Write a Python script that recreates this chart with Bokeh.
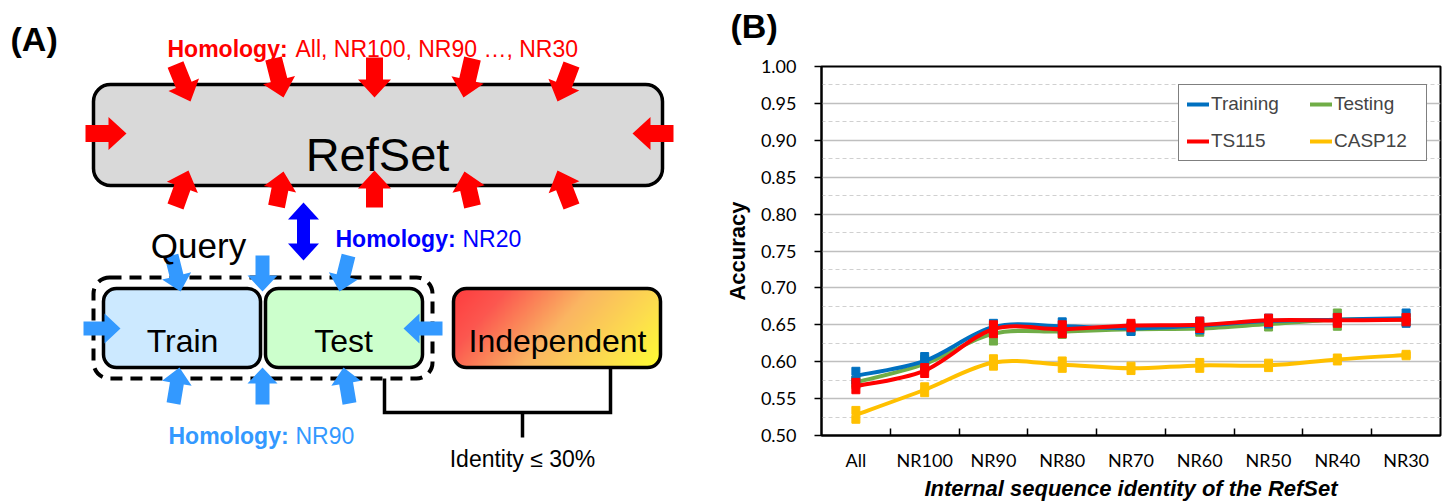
import numpy as np
from bokeh.plotting import figure
from bokeh.layouts import row
from bokeh.models import Range1d, FixedTicker, Legend, LegendItem, Title
from bokeh.core.properties import value
from bokeh.embed import file_html
from bokeh.resources import INLINE

# ---------------- Panel B data ----------------
categories = ["All", "NR100", "NR90", "NR80", "NR70", "NR60", "NR50", "NR40", "NR30"]
training = [0.581, 0.601, 0.647, 0.648, 0.645, 0.649, 0.655, 0.657, 0.659]
training_err = [0.006, 0.006, 0.005, 0.006, 0.004, 0.006, 0.004, 0.003, 0.007]
testing = [0.572, 0.597, 0.638, 0.641, 0.644, 0.645, 0.651, 0.657, 0.657]
testing_err = [0.003, 0.006, 0.010, 0.004, 0.003, 0.005, 0.004, 0.009, 0.003]
ts115 = [0.567, 0.588, 0.644, 0.644, 0.649, 0.650, 0.656, 0.656, 0.657]
ts115_err = [0.005, 0.004, 0.006, 0.006, 0.003, 0.005, 0.003, 0.004, 0.003]
casp12 = [0.528, 0.562, 0.599, 0.596, 0.591, 0.595, 0.595, 0.603, 0.609]
casp12_err = [0.006, 0.004, 0.005, 0.005, 0.003, 0.004, 0.003, 0.002, 0.001]
series_names = ["Training", "Testing", "TS115", "CASP12"]
series_colors = ["#0070C0", "#70AD47", "#FF0000", "#FFC000"]
y_ticks = [0.50, 0.55, 0.60, 0.65, 0.70, 0.75, 0.80, 0.85, 0.90, 0.95, 1.00]
y_solid_grid = [0.55, 0.60, 0.65, 0.70, 0.75, 0.80, 0.85, 0.90, 0.95]
y_dashed_grid = [0.525, 0.575, 0.625, 0.675, 0.725, 0.775, 0.825, 0.875, 0.925, 0.975]
x_title = "Internal sequence identity of the RefSet"
y_title = "Accuracy"

# ---------------- Panel A content ----------------
H = 503
FONT = "Liberation Sans"
refset_box = (93, 662, 84, 185)        # left, right, top, bottom (pixel, y down)
dashed_box = (93, 432, 277, 378)
train_box = (103, 260, 288, 367)
test_box = (265, 422, 288, 367)
indep_box = (453, 660, 288, 367)
red_arrows = [((175, 64), (190, 101)), ((273, 58), (283, 97)), ((374, 57), (374, 97)),
              ((472, 58), (463, 97)), ((571, 64), (557, 101)),
              ((175, 206), (188, 170)), ((276, 206), (283, 171)), ((374, 207), (374, 170)),
              ((472, 206), (464, 171)), ((571, 206), (557, 170)),
              ((85, 133), (126, 133)), ((673, 133), (632, 133))]
blue_arrows = [((171, 255), (180, 291)), ((262, 255), (262, 291)), ((348, 255), (339, 291)),
               ((173, 403), (179, 367)), ((262, 404), (262, 367)), ((349, 403), (343, 367)),
               ((83, 328), (120, 328)), ((442, 328), (403, 328))]
double_arrow = (303, 202, 260)
bracket_x = [384, 384, 610, 610]
bracket_y = [378, 412, 412, 367]
stem_x = [522, 522]
stem_y = [412, 437]
# text: x, baseline y, string, size, color, style, align
texts_A = [
    (10, 38, "(A)", 34, "black", "bold", "left"),
    (377, 154, "RefSet", 47, "black", "normal", "center"),
    (198, 245, "Query", 35, "black", "normal", "center"),
    (182, 340, "Train", 32, "black", "normal", "center"),
    (343, 340, "Test", 32, "black", "normal", "center"),
    (557, 340, "Independent", 32, "black", "normal", "center"),
    (522, 458, "Identity \u2264 30%", 23, "black", "normal", "center"),
    (167, 48, "Homology:", 23, "#FF0000", "bold", "left"),
    (295, 48, "All, NR100, NR90 \u2026, NR30", 23, "#FF0000", "normal", "left"),
    (335, 238, "Homology:", 23, "#0000FF", "bold", "left"),
    (462, 238, "NR20", 23, "#0000FF", "normal", "left"),
    (168, 435, "Homology:", 23, "#3399FF", "bold", "left"),
    (295, 435, "NR90", 23, "#3399FF", "normal", "left"),
]
grad_stops_t = [0.0, 0.2, 0.5, 0.78, 1.0]
grad_stops_rgb = [(255, 60, 62), (252, 88, 80), (250, 182, 98), (253, 222, 78), (255, 255, 50)]


def fy(y):
    return H - y


def block_arrow(tail, tip, sw, hw, hl):
    (x0, y0), (x1, y1) = tail, tip
    dx, dy = x1 - x0, y1 - y0
    L = (dx * dx + dy * dy) ** 0.5
    ux, uy = dx / L, dy / L
    nx, ny = -uy, ux
    kx, ky = x1 - ux * hl, y1 - uy * hl
    pts = [(x0 + nx * sw / 2, y0 + ny * sw / 2), (kx + nx * sw / 2, ky + ny * sw / 2),
           (kx + nx * hw / 2, ky + ny * hw / 2), (x1, y1),
           (kx - nx * hw / 2, ky - ny * hw / 2), (kx - nx * sw / 2, ky - ny * sw / 2),
           (x0 - nx * sw / 2, y0 - ny * sw / 2)]
    return [p[0] for p in pts], [fy(p[1]) for p in pts]


pA = figure(width=720, height=H, x_range=Range1d(0, 720), y_range=Range1d(0, H),
            x_axis_type=None, y_axis_type=None, toolbar_location=None,
            output_backend="svg", min_border=0, outline_line_color=None)
pA.grid.visible = False
pA.frame_width = 720
pA.frame_height = H

# RefSet box
l, r, t, b = refset_box
pA.quad(left=[l], right=[r], top=[fy(t)], bottom=[fy(b)], border_radius=17,
        fill_color="#D9D9D9", line_color="black", line_width=3.5)
# red arrows
xs, ys = [], []
for tail, tip in red_arrows:
    ax, ay = block_arrow(tail, tip, 17, 33, 18)
    xs.append(ax); ys.append(ay)
pA.patches(xs=xs, ys=ys, fill_color="#FF0000", line_color=None)

# dashed box and Train/Test
l, r, t, b = dashed_box
pA.quad(left=[l], right=[r], top=[fy(t)], bottom=[fy(b)], border_radius=16,
        fill_color=None, line_color="black", line_width=4, line_dash="12 8")
for (l, r, t, b), col in [(train_box, "#CCE9FF"), (test_box, "#CCFFCC")]:
    pA.quad(left=[l], right=[r], top=[fy(t)], bottom=[fy(b)], border_radius=13,
            fill_color=col, line_color="black", line_width=3.5)

# gradient independent box
l, r, t, b = indep_box
gw, gh = r - l, b - t
img = np.zeros((gh, gw), dtype=np.uint32)
view = img.view(dtype=np.uint8).reshape((gh, gw, 4))
U, Vr = np.meshgrid(np.arange(gw) + 0.5, np.arange(gh) + 0.5)
Vd = gh - Vr
tt = np.clip(0.75 * (U / gw) + 0.25 * (Vd / gh), 0, 1)
for ch in range(3):
    view[..., ch] = np.interp(tt, grad_stops_t, [c[ch] for c in grad_stops_rgb]).astype(np.uint8)
rad = 13
cx = np.clip(U, rad, gw - rad)
cy = np.clip(Vd, rad, gh - rad)
inside = (U - cx) ** 2 + (Vd - cy) ** 2 <= rad * rad
view[..., 3] = np.where(inside, 255, 0).astype(np.uint8)
pA.image_rgba(image=[img], x=l, y=fy(b), dw=gw, dh=gh)
pA.quad(left=[l], right=[r], top=[fy(t)], bottom=[fy(b)], border_radius=13,
        fill_color=None, line_color="black", line_width=3.5)

# blue arrows
xs, ys = [], []
for tail, tip in blue_arrows:
    ax, ay = block_arrow(tail, tip, 14, 30, 16)
    xs.append(ax); ys.append(ay)
pA.patches(xs=xs, ys=ys, fill_color="#3399FF", line_color=None)

# double arrow
dx0, dtop, dbot = double_arrow
sw, hw, hl = 13, 31, 17
dax = [dx0, dx0 + hw / 2, dx0 + sw / 2, dx0 + sw / 2, dx0 + hw / 2, dx0,
       dx0 - hw / 2, dx0 - sw / 2, dx0 - sw / 2, dx0 - hw / 2]
day = [dtop, dtop + hl, dtop + hl, dbot - hl, dbot - hl, dbot,
       dbot - hl, dbot - hl, dtop + hl, dtop + hl]
pA.patch(x=dax, y=[fy(v) for v in day], fill_color="#0000FF", line_color=None)

# bracket
pA.line(x=bracket_x, y=[fy(v) for v in bracket_y], line_color="black", line_width=3.5,
        line_join="miter")
pA.line(x=stem_x, y=[fy(v) for v in stem_y], line_color="black", line_width=3.5)

for (x, y, s, size, col, style, align) in texts_A:
    pA.text(x=[x], y=[fy(y)], text=[s], text_font=value(FONT), text_font_size=f"{size}px",
            text_font_style=style, text_color=col, text_align=align,
            text_baseline="alphabetic")

# ---------------- Panel B ----------------
n = len(categories)
xpos = [i + 0.5 for i in range(n)]
pB = figure(width=723, height=H, x_range=Range1d(0, n), y_range=Range1d(0.5, 1.0),
            toolbar_location=None, output_backend="svg",
            min_border_left=101, min_border_right=3, min_border_top=66, min_border_bottom=68)
pB.outline_line_color = "black"
pB.outline_line_width = 2
if "frame_align" in pA.properties():
    pA.frame_align = False
    pB.frame_align = False

pB.xgrid.visible = False
pB.ygrid.ticker = FixedTicker(ticks=y_solid_grid, minor_ticks=y_dashed_grid)
pB.ygrid.grid_line_color = "#BFBFBF"
pB.ygrid.grid_line_width = 1.5
pB.ygrid.minor_grid_line_color = "#D0D0D0"
pB.ygrid.minor_grid_line_width = 1.2
pB.ygrid.minor_grid_line_dash = "4 3"

yax = pB.yaxis[0]
yax.ticker = FixedTicker(ticks=y_ticks)
yax.major_label_overrides = {v: f"{v:.2f}" for v in y_ticks}
yax.major_tick_in = 0
yax.major_tick_out = 7
yax.major_tick_line_width = 1.5
yax.minor_tick_line_color = None
yax.major_label_standoff = 18
yax.major_label_text_font = "Lato"
yax.major_label_text_font_size = "18px"
yax.major_label_text_color = "black"
yax.axis_line_width = 2
yax.axis_label = y_title
yax.axis_label_text_font = FONT
yax.axis_label_text_font_style = "bold"
yax.axis_label_text_font_size = "22px"
yax.axis_label_text_color = "black"
yax.axis_label_standoff = 8

xax = pB.xaxis[0]
xax.ticker = FixedTicker(ticks=xpos, minor_ticks=list(range(1, n)))
xax.major_label_overrides = {xp: c for xp, c in zip(xpos, categories)}
xax.major_tick_in = 0
xax.major_tick_out = 0
xax.minor_tick_in = 7
xax.minor_tick_out = 0
xax.minor_tick_line_color = "black"
xax.minor_tick_line_width = 1.5
xax.major_label_standoff = 13
xax.major_label_text_font = "Lato"
xax.major_label_text_font_size = "18px"
xax.major_label_text_color = "black"
xax.axis_line_width = 2
xax.axis_label = x_title
xax.axis_label_text_font = FONT
xax.axis_label_text_font_style = "bold italic"
xax.axis_label_text_font_size = "22px"
xax.axis_label_text_color = "black"
xax.axis_label_standoff = 2


def bezier_segments(xs, ys):
    m = len(xs)
    out = {k: [] for k in ["x0", "y0", "x1", "y1", "cx0", "cy0", "cx1", "cy1"]}
    for i in range(m - 1):
        i0 = max(i - 1, 0)
        i3 = min(i + 2, m - 1)
        out["x0"].append(xs[i]); out["y0"].append(ys[i])
        out["x1"].append(xs[i + 1]); out["y1"].append(ys[i + 1])
        out["cx0"].append(xs[i] + (xs[i + 1] - xs[i0]) / 6)
        out["cy0"].append(ys[i] + (ys[i + 1] - ys[i0]) / 6)
        out["cx1"].append(xs[i + 1] - (xs[i3] - xs[i]) / 6)
        out["cy1"].append(ys[i + 1] - (ys[i3] - ys[i]) / 6)
    return out


series = {"Training": (training, training_err), "Testing": (testing, testing_err),
          "TS115": (ts115, ts115_err), "CASP12": (casp12, casp12_err)}
color_of = dict(zip(series_names, series_colors))
line_r = {}
for name in ["CASP12", "Testing", "Training", "TS115"]:
    vals, errs = series[name]
    col = color_of[name]
    lo = [v - e for v, e in zip(vals, errs)]
    hi = [v + e for v, e in zip(vals, errs)]
    pB.segment(x0=xpos, y0=lo, x1=xpos, y1=hi, line_color=col, line_width=4)
    pB.scatter(x=xpos, y=lo, marker="square", size=8, fill_color=col, line_color=col)
    pB.scatter(x=xpos, y=hi, marker="square", size=8, fill_color=col, line_color=col)
    seg = bezier_segments(xpos, vals)
    line_r[name] = pB.bezier(line_color=col, line_width=4, line_cap="round", **seg)

items = []
for name in series_names:
    col = color_of[name]
    dot = pB.scatter(x=[], y=[], marker="circle", size=6, fill_color=col, line_color=col)
    items.append(LegendItem(label=name, renderers=[line_r[name], dot]))
legend = Legend(items=items, ncols=2, location=(357, 274), orientation="horizontal")
legend.border_line_color = "black"
legend.border_line_width = 1.5
legend.background_fill_color = "white"
legend.background_fill_alpha = 1
legend.label_text_font = FONT
legend.label_text_font_size = "19px"
legend.glyph_width = 22
legend.glyph_height = 20
legend.label_standoff = 2
legend.label_width = 84
legend.spacing = 15
legend.padding = 8
legend.margin = 0
pB.add_layout(legend)

# spacer (closest to frame) then the panel letter above it
spacer = Title(text=" ", text_font_size="10px", standoff=5)
pB.add_layout(spacer, "above")
tB = Title(text="(B)", align="left", offset=-91, text_font=FONT, text_font_style="bold",
           text_font_size="34px", text_color="black", vertical_align="bottom", standoff=8)
pB.add_layout(tB, "above")

layout = row(pA, pB)
open("out.html", "w").write(file_html(layout, INLINE))
